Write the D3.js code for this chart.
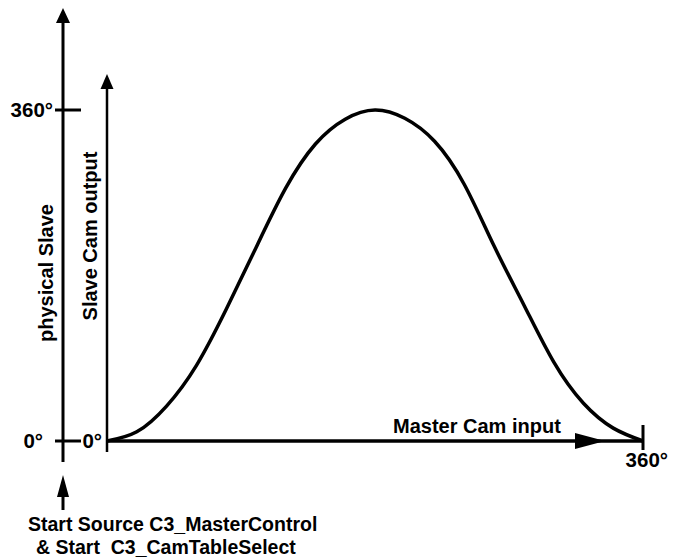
<!DOCTYPE html>
<html>
<head>
<meta charset="utf-8">
<script src="https://cdn.jsdelivr.net/npm/d3@7"></script>
<style>
  html, body { margin: 0; padding: 0; background: #fff; }
  svg { display: block; }
  text { font-family: "Liberation Sans", Arial, sans-serif; font-weight: bold; fill: #000; white-space: pre; }
</style>
</head>
<body>
<svg id="chart" width="675" height="560"></svg>
<script>
// Cam profile: master input angle (deg) -> slave output angle (deg)
const masterDeg = [0, 20, 40, 60, 80, 100, 120, 140, 160, 180,
                   200, 220, 240, 260, 280, 300, 320, 340, 360];
const slaveDeg  = [0, 10, 38, 82, 143, 210, 275, 323, 350, 360,
                   351, 326, 279, 212, 148, 86, 41, 14, 0];

const angleDomain = [0, 360];
const slaveTickLabels = ["0°", "360°"];
const camOutTickLabel = "0°";
const camInEndLabel = "360°";
const axisTitles = { physical: "physical Slave", camOut: "Slave Cam output", camIn: "Master Cam input" };
const captionLines = ["Start Source C3_MasterControl", "& Start  C3_CamTableSelect"];

const svg = d3.select("#chart");

const x = d3.scaleLinear().domain(angleDomain).range([107, 643]);
const y = d3.scaleLinear().domain(angleDomain).range([441, 110]);

const phys = 63; // physical slave axis position

function triangle(cx, cy, dir, len, half) {
  // arrow head whose tip is at (cx, cy)
  if (dir === "up") return `M${cx},${cy} L${cx - half},${cy + len} L${cx + half},${cy + len} Z`;
  if (dir === "right") return `M${cx},${cy} L${cx - len},${cy - half} L${cx - len},${cy + half} Z`;
}

// physical slave axis
svg.append("line").attr("x1", phys).attr("x2", phys).attr("y1", 20).attr("y2", 462)
  .attr("stroke", "#000").attr("stroke-width", 3);
svg.append("path").attr("d", triangle(phys, 8, "up", 15, 7)).attr("fill", "#000");

// physical slave ticks and labels
svg.selectAll(".ptick").data(angleDomain).join("line")
  .attr("x1", 55).attr("x2", 81).attr("y1", d => y(d)).attr("y2", d => y(d))
  .attr("stroke", "#000").attr("stroke-width", 3);
svg.selectAll(".plabel").data(angleDomain).join("text")
  .attr("x", d => d === 0 ? 43 : 53).attr("y", d => y(d) + 7)
  .attr("text-anchor", "end").attr("font-size", 20.5)
  .text((d, i) => slaveTickLabels[i]);

// start marker arrow below
svg.append("line").attr("x1", phys).attr("x2", phys).attr("y1", 495).attr("y2", 510)
  .attr("stroke", "#000").attr("stroke-width", 3);
svg.append("path").attr("d", triangle(phys, 475, "up", 22, 6)).attr("fill", "#000");

// cam output axis
svg.append("line").attr("x1", x(0)).attr("x2", x(0)).attr("y1", 86).attr("y2", 452)
  .attr("stroke", "#000").attr("stroke-width", 2.5);
svg.append("path").attr("d", triangle(x(0), 74, "up", 15, 6.5)).attr("fill", "#000");
svg.append("text").attr("x", 102).attr("y", y(0) + 7).attr("text-anchor", "end")
  .attr("font-size", 20.5).text(camOutTickLabel);

// cam input axis
svg.append("line").attr("x1", x(0)).attr("x2", x(360)).attr("y1", y(0)).attr("y2", y(0))
  .attr("stroke", "#000").attr("stroke-width", 3.5);
svg.append("path").attr("d", triangle(605, y(0), "right", 30, 8)).attr("fill", "#000");
svg.append("line").attr("x1", x(360)).attr("x2", x(360)).attr("y1", 425).attr("y2", 450)
  .attr("stroke", "#000").attr("stroke-width", 3);
svg.append("text").attr("x", 668).attr("y", 467).attr("text-anchor", "end")
  .attr("font-size", 20.5).text(camInEndLabel);

// axis titles
svg.append("text").attr("x", 393).attr("y", 433).attr("font-size", 20).text(axisTitles.camIn);
svg.append("text").attr("transform", "translate(53,273) rotate(-90)")
  .attr("text-anchor", "middle").attr("font-size", 20).text(axisTitles.physical);
svg.append("text").attr("transform", "translate(97,236) rotate(-90)")
  .attr("text-anchor", "middle").attr("font-size", 20).text(axisTitles.camOut);

// cam curve
const line = d3.line().x(d => x(d[0])).y(d => y(d[1])).curve(d3.curveNatural);
svg.append("path").datum(masterDeg.map((m, i) => [m, slaveDeg[i]]))
  .attr("d", line).attr("fill", "none").attr("stroke", "#000").attr("stroke-width", 3.5);

// caption
svg.selectAll(".caption").data(captionLines).join("text")
  .attr("x", (d, i) => i === 0 ? 28 : 36).attr("y", (d, i) => 531 + i * 23)
  .attr("font-size", 19.5)
  .text(d => d);
</script>
</body>
</html>
